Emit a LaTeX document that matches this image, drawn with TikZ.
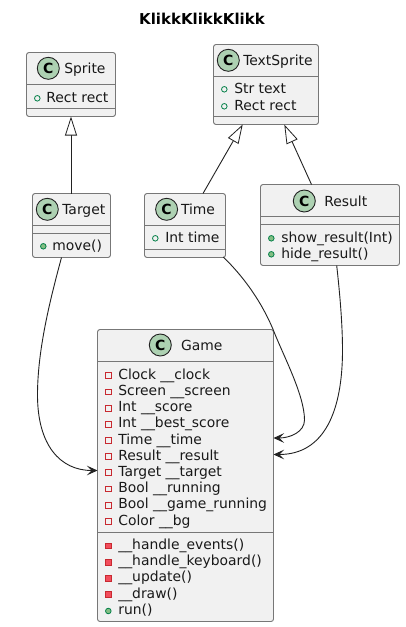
\documentclass[tikz,border=0pt]{standalone}
\usepackage{fontspec}
\setmainfont{DejaVu Sans}
\usetikzlibrary{arrows.meta}
\definecolor{boxfill}{HTML}{F1F1F1}
\definecolor{boxline}{HTML}{777777}
\definecolor{spot}{HTML}{ADD1B2}
\definecolor{publine}{HTML}{038048}
\definecolor{pubfill}{HTML}{84BE84}
\definecolor{privline}{HTML}{C82930}
\definecolor{privfill}{HTML}{F24D5C}
\definecolor{edge}{HTML}{222222}
\tikzset{
  x=1pt,y=-1pt,
  classbox/.style={draw=boxline,fill=boxfill,line width=0.9pt,rounded corners=2.5pt,inner sep=0pt,outer sep=0pt},
  sepline/.style={draw=boxline,line width=0.9pt},
  lbl/.style={anchor=base west,inner sep=0pt,outer sep=0pt,font=\fontsize{13.9}{14}\selectfont,text=black!90},
  spotc/.style={circle,draw=edge,fill=spot,line width=0.9pt,minimum size=22pt,inner sep=0pt,font=\fontsize{14}{14}\selectfont\bfseries},
  pubopen/.style={circle,draw=publine,line width=0.8pt,minimum size=5.6pt,inner sep=0pt},
  pubdot/.style={circle,draw=publine,fill=pubfill,line width=0.8pt,minimum size=5.6pt,inner sep=0pt},
  privopen/.style={rectangle,draw=privline,line width=0.8pt,minimum size=5.6pt,inner sep=0pt},
  privdot/.style={rectangle,draw=privline,fill=privfill,line width=0.8pt,minimum size=5.6pt,inner sep=0pt},
  inherit/.style={draw=edge,line width=0.9pt,-{Triangle[open,fill=white,length=19pt,width=12pt,line width=0.8pt]}},
  assoc/.style={draw=edge,line width=0.9pt,-{Stealth[length=10.5pt,width=9.5pt,inset=4.5pt,fill=edge]}},
}
\newcommand{\cbox}[5]{\node[classbox,minimum width=#4-#2,minimum height=#5-#3,anchor=north west] (#1) at (#2,#3) {};}
\begin{document}
\begin{tikzpicture}
\useasboundingbox (0,0) rectangle (405,627);
\fill[white] (0,0) rectangle (405,627);
\node[font=\fontsize{15}{15}\selectfont\bfseries,anchor=base,inner sep=0pt] (title) at (202,24) {KlikkKlikkKlikk};

% boxes
\cbox{sprite}{26.5}{52.5}{115.5}{116.5}
\cbox{target}{32.5}{193.5}{110.5}{257.5}
\cbox{time}{144.5}{193.5}{225.5}{257.5}
\cbox{textsprite}{213.5}{44.5}{318.5}{124.5}
\cbox{result}{260.5}{184.5}{399.5}{265.5}
\cbox{game}{97.5}{329.5}{273.5}{621.5}

% separators
\draw[sepline] (26.5,84.5)--(115.5,84.5) (26.5,108.5)--(115.5,108.5);
\draw[sepline] (32.5,225.5)--(110.5,225.5) (32.5,233.5)--(110.5,233.5);
\draw[sepline] (144.5,225.5)--(225.5,225.5) (144.5,249.5)--(225.5,249.5);
\draw[sepline] (213.5,76.5)--(318.5,76.5) (213.5,116.5)--(318.5,116.5);
\draw[sepline] (260.5,216.5)--(399.5,216.5) (260.5,224.5)--(399.5,224.5);
\draw[sepline] (97.5,361.5)--(273.5,361.5) (97.5,532.5)--(273.5,532.5);

% spots and class names
\node[spotc] (sprC) at (48.3,68.3) {C};
\node[lbl] (sprN) at (64.3,73.3) {Sprite};
\node[spotc] (tarC) at (47.3,209.3) {C};
\node[lbl] (tarN) at (62.3,214.3) {Target};
\node[spotc] (timC) at (166.6,209.3) {C};
\node[lbl] (timN) at (181,214.3) {Time};
\node[spotc] (txtC) at (228.3,60.3) {C};
\node[lbl] (txtN) at (243.3,65.3) {TextSprite};
\node[spotc] (resC) at (304.3,201) {C};
\node[lbl] (resN) at (324.3,206) {Result};
\node[spotc] (gamC) at (160.3,345) {C};
\node[lbl] (gamN) at (181,350) {Game};

% members
\node[pubopen] (i1) at (37.3,98.3) {}; \node[lbl] (m1) at (46.3,102) {Rect rect};
\node[pubdot] (i2) at (43.3,246.3) {}; \node[lbl] (m2) at (52.3,250.5) {move()};
\node[pubopen] (i3) at (155.3,238.3) {}; \node[lbl] (m3) at (165.3,242.5) {Int time};
\node[pubopen] (i4) at (224.3,89.3) {}; \node[lbl] (m4) at (234.3,93.5) {Str text};
\node[pubopen] (i5) at (224.3,106.3) {}; \node[lbl] (m5) at (234.3,110) {Rect rect};
\node[pubdot] (i6) at (271.3,238.3) {}; \node[lbl] (m6) at (281.3,242.5) {show\_result(Int)};
\node[pubdot] (i7) at (271.3,254.3) {}; \node[lbl] (m7) at (281.3,258.5) {hide\_result()};

\foreach \n/\y/\t in {a/375.5/Clock \_\_clock,b/391.8/Screen \_\_screen,c/408.1/Int \_\_score,d/424.4/Int \_\_best\_score,e/440.5/Time \_\_time,f/456.5/Result \_\_result,g/472.5/Target \_\_target,h/489/Bool \_\_running,i/505.3/Bool \_\_game\_running,j/521.5/Color \_\_bg}{
  \node[privopen] (ic\n) at (108.3,\y) {};
  \node[lbl] (at\n) at (118.3,\y+3.5) {\t};
}
\foreach \n/\y/\t in {a/546/\_\_handle\_events(),b/562.3/\_\_handle\_keyboard(),c/578.4/\_\_update(),d/594.5/\_\_draw()}{
  \node[privdot] (ip\n) at (108.3,\y) {};
  \node[lbl] (op\n) at (118.3,\y+3.5) {\t};
}
\node[pubdot] (ipe) at (108.3,611) {};
\node[lbl] (ope) at (118.3,614.8) {run()};

% connection points
\coordinate (tsL) at (242.7,124.5);
\coordinate (tsR) at (284.3,124.5);
\coordinate (tiT) at (203,193.5);
\coordinate (reT) at (311.5,184.5);
\coordinate (taB) at (61.5,257.5);
\coordinate (tiB) at (223.3,257);
\coordinate (reB) at (336.7,265.5);
\coordinate (gaT) at (97.5,470.5);
\coordinate (gaM) at (273.5,438);
\coordinate (gaR) at (273.5,454.5);

\draw[inherit] (target.north -| sprite.south) -- (sprite.south);
\draw[inherit] (tiT) -- (tsL);
\draw[inherit] (reT) -- (tsR);
\draw[assoc] (taB) .. controls (50,300) and (37.5,350) .. (37.5,395) .. controls (37.5,445) and (60,470.5) .. (gaT);
\draw[assoc] (tiB) .. controls (250,283) and (265,310) .. (273.3,330) .. controls (283,355) and (304.5,395) .. (304.5,420) .. controls (304.5,432) and (290,438) .. (gaM);
\draw[assoc] (reB) .. controls (340,295) and (342.5,325) .. (342.5,350) .. controls (342.5,410) and (325,454.5) .. (gaR);
\end{tikzpicture}
\end{document}
